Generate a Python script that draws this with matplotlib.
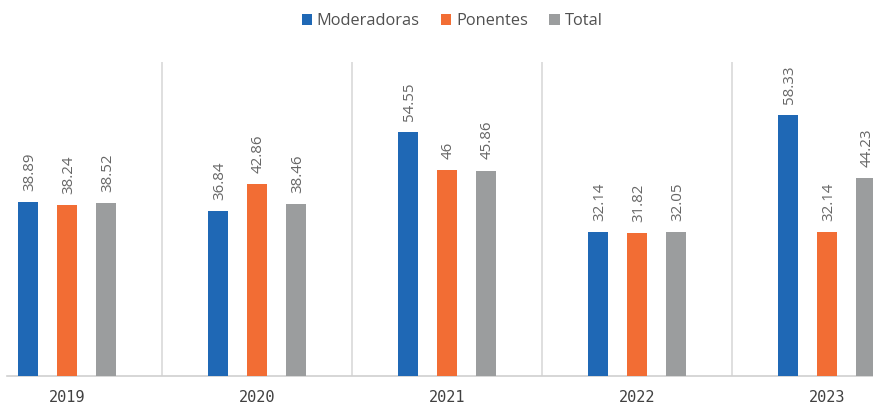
import matplotlib
matplotlib.use("Agg")
import matplotlib.pyplot as plt
import numpy as np
from matplotlib.patches import Patch

years = ["2019", "2020", "2021", "2022", "2023"]
moderadoras = [38.89, 36.84, 54.55, 32.14, 58.33]
ponentes = [38.24, 42.86, 46, 31.82, 32.14]
total = [38.52, 38.46, 45.86, 32.05, 44.23]
series_names = ["Moderadoras", "Ponentes", "Total"]
colors = ["#1f68b5", "#f26d34", "#9b9d9e"]

plt.rcParams['font.family'] = ['Open Sans', 'DejaVu Sans']

W, H = 873, 404
fig = plt.figure(figsize=(W / 100, H / 100), dpi=100)
left_px, right_px, top_px, base_px = 7, 873, 62, 376
ax = fig.add_axes([left_px / W, (H - base_px) / H, (right_px - left_px) / W, (base_px - top_px) / H])

x = np.arange(len(years))
px_per_cat = 190.0
center0 = 67.0
ax.set_xlim((left_px - center0) / px_per_cat, (right_px - center0) / px_per_cat)
ax.set_ylim(0, (base_px - top_px) / 4.48)

offsets = [-0.205, 0.0, 0.205]
width = 0.108
for vals, off, col in zip([moderadoras, ponentes, total], offsets, colors):
    bars = ax.bar(x + off, vals, width=width, color=col, zorder=3, clip_on=False)
    for b, v in zip(bars, vals):
        ax.annotate(f"{v:g}", (b.get_x() + b.get_width() / 2, v), xytext=(1, 8),
                    textcoords="offset points", rotation=90, ha="center", va="bottom",
                    fontsize=10.8, color="#666666", annotation_clip=False)

for s in x[:-1] + 0.5:
    ax.axvline(s, color="#d9d9d9", lw=1.2, zorder=1)

for sp in ["top", "right", "left"]:
    ax.spines[sp].set_visible(False)
ax.spines["bottom"].set_color("#d0d0d0")
ax.spines["bottom"].set_linewidth(1.2)
ax.set_yticks([])
ax.set_xticks(x)
ax.set_xticklabels(years, fontsize=11, color="#404040")
for t in ax.get_xticklabels():
    t.set_fontfamily(['DejaVu Sans Mono', 'DejaVu Sans'])
ax.tick_params(axis="x", length=0, pad=10)

handles = [Patch(facecolor=c, label=n) for c, n in zip(colors, series_names)]
fig.legend(handles=handles, loc="center", bbox_to_anchor=(452 / W, 1 - 21 / H), ncol=3,
           frameon=False, fontsize=11.8, handlelength=0.62, handleheight=0.62,
           handletextpad=0.3, columnspacing=1.3, labelcolor="#505050")

fig.savefig("out.png", dpi=100)
